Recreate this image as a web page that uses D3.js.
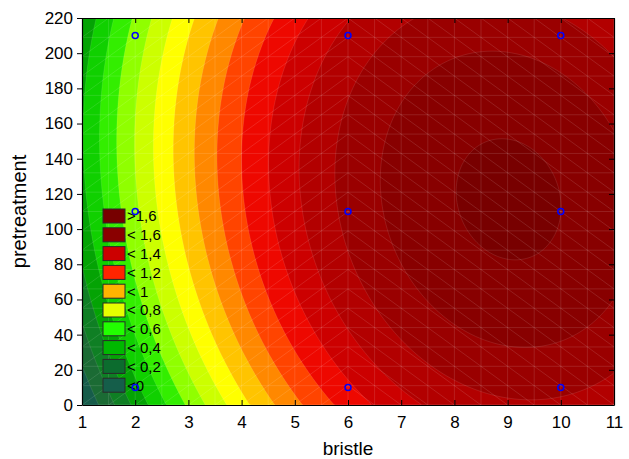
<!DOCTYPE html>
<html>
<head>
<meta charset="utf-8">
<script src="https://cdn.jsdelivr.net/npm/d3@7"></script>
<style>
body { margin: 0; background: #fff; }
text { font-family: "Liberation Sans", Arial, sans-serif; }
</style>
</head>
<body>
<div id="chart"></div>
<script>
// design points (blue circles)
var bristle = [2, 6, 10];
var pretreatment = [10, 110, 210];
// response read at each design point, one array per bristle level (pretreatment 10,110,210)
var respB2 = [0.28, 0.575, 0.535];
var respB6 = [1.17, 1.43, 1.33];
var respB10 = [1.425, 1.598, 1.433];

var levels = [0, 0.1, 0.2, 0.3, 0.4, 0.5, 0.6, 0.7, 0.8, 0.9, 1.0, 1.1, 1.2, 1.3, 1.4, 1.5, 1.6];
var belowColor = "#165c4a";
var bandColors = ["#1b6b34", "#0f7f24", "#04a304", "#10d000", "#33ee00", "#90ff00", "#ccff00",
  "#ffff00", "#ffc400", "#ff8800", "#ff4400", "#ee0800", "#cc0000", "#b20000", "#9a0000", "#880000", "#780000"];

var legendLabels = [">1,6", "< 1,6", "< 1,4", "< 1,2", "< 1", "< 0,8", "< 0,6", "< 0,4", "< 0,2", "<0"];
var legendColors = ["#770000", "#8a0000", "#cc0000", "#ff2400", "#ffb400", "#e6ff00", "#22ff00", "#00b800", "#0c6c2e", "#155e4a"];

var xTicks = [1, 2, 3, 4, 5, 6, 7, 8, 9, 10, 11];
var yTicks = [0, 20, 40, 60, 80, 100, 120, 140, 160, 180, 200, 220];

(function () {
var width = 629, height = 459;
var L = 82, R = 614, T = 18, B = 405;
var W = R - L, H = B - T;

var x = d3.scaleLinear().domain([1, 11]).range([L, R]);
var y = d3.scaleLinear().domain([0, 220]).range([B, T]);

var svg = d3.select("#chart").append("svg")
  .attr("width", width).attr("height", height);

// quadratic response surface fitted (least squares) to the design points
var pts = [];
var resp = [respB2, respB6, respB10];
bristle.forEach(function (b, i) {
  pretreatment.forEach(function (p, j) {
    pts.push({ x: b, y: p, z: resp[i][j] });
  });
});
function terms(xv, yv) {
  var a = (xv - 6) / 4, b = (yv - 110) / 100;
  return [1, a, b, a * a, b * b, a * b];
}
var M = [], v = [];
for (var r = 0; r < 6; r++) { M.push([0, 0, 0, 0, 0, 0]); v.push(0); }
pts.forEach(function (d) {
  var t = terms(d.x, d.y);
  for (var r = 0; r < 6; r++) {
    v[r] += t[r] * d.z;
    for (var c = 0; c < 6; c++) M[r][c] += t[r] * t[c];
  }
});
for (var k = 0; k < 6; k++) {
  var piv = k;
  for (var r = k + 1; r < 6; r++) if (Math.abs(M[r][k]) > Math.abs(M[piv][k])) piv = r;
  var tmp = M[k]; M[k] = M[piv]; M[piv] = tmp;
  var tv = v[k]; v[k] = v[piv]; v[piv] = tv;
  for (var r = k + 1; r < 6; r++) {
    var f = M[r][k] / M[k][k];
    for (var c = k; c < 6; c++) M[r][c] -= f * M[k][c];
    v[r] -= f * v[k];
  }
}
var coef = [0, 0, 0, 0, 0, 0];
for (var k = 5; k >= 0; k--) {
  var s = v[k];
  for (var c = k + 1; c < 6; c++) s -= M[k][c] * coef[c];
  coef[k] = s / M[k][k];
}
function surf(xv, yv) {
  var t = terms(xv, yv), s = 0;
  for (var i = 0; i < 6; i++) s += coef[i] * t[i];
  return s;
}

var nx = 266, ny = 194;
var values = new Array(nx * ny);
for (var j = 0; j < ny; j++) {
  var yv = y.invert(T + (j + 0.5) * H / ny);
  for (var i = 0; i < nx; i++) {
    values[j * nx + i] = surf(x.invert(L + (i + 0.5) * W / nx), yv);
  }
}

var contours = d3.contours().size([nx, ny]).smooth(true).thresholds(levels)(values);
var path = d3.geoPath(d3.geoTransform({
  point: function (px, py) { this.stream.point(L + px * W / nx, T + py * H / ny); }
}));

svg.append("clipPath").attr("id", "plotclip")
  .append("rect").attr("x", L).attr("y", T).attr("width", W).attr("height", H);

var plot = svg.append("g").attr("clip-path", "url(#plotclip)");
plot.append("rect").attr("x", L).attr("y", T).attr("width", W).attr("height", H)
  .attr("fill", belowColor);

plot.selectAll(".band")
  .data(contours)
  .enter().append("path")
  .attr("class", "band")
  .attr("d", path)
  .attr("fill", function (d, i) { return bandColors[i]; })
  .attr("stroke", "rgba(255,255,255,0.14)")
  .attr("stroke-width", 0.7);

// faint surface mesh
var mx = d3.range(0, 21).map(function (k) { return 1 + k * 0.5; });
var my = d3.range(0, 21).map(function (k) { return k * 11; });
var mesh = plot.append("g").attr("stroke", "rgba(255,255,255,0.15)").attr("stroke-width", 0.8);
mx.forEach(function (xv) {
  mesh.append("line").attr("x1", x(xv)).attr("x2", x(xv)).attr("y1", T).attr("y2", B);
});
my.forEach(function (yv) {
  mesh.append("line").attr("x1", L).attr("x2", R).attr("y1", y(yv)).attr("y2", y(yv));
});
for (var i = 0; i < 20; i++) {
  for (var j = 0; j < 20; j++) {
    var ln = mesh.append("line");
    if (i < 10) {
      ln.attr("x1", x(mx[i])).attr("y1", y(my[j])).attr("x2", x(mx[i + 1])).attr("y2", y(my[j + 1]));
    } else {
      ln.attr("x1", x(mx[i])).attr("y1", y(my[j + 1])).attr("x2", x(mx[i + 1])).attr("y2", y(my[j]));
    }
  }
}

// axes
svg.append("g").attr("transform", "translate(0," + B + ")")
  .call(d3.axisBottom(x).tickValues(xTicks).tickFormat(d3.format("d")).tickSize(-5).tickSizeOuter(0).tickPadding(11));
svg.append("g").attr("transform", "translate(0," + T + ")")
  .call(d3.axisTop(x).tickValues(xTicks).tickFormat("").tickSize(-5).tickSizeOuter(0));
svg.append("g").attr("transform", "translate(" + L + ",0)")
  .call(d3.axisLeft(y).tickValues(yTicks).tickFormat(d3.format("d")).tickSize(5).tickSizeOuter(0).tickPadding(4));
svg.append("g").attr("transform", "translate(" + R + ",0)")
  .call(d3.axisRight(y).tickValues(yTicks).tickFormat("").tickSize(-5).tickSizeOuter(0));

svg.selectAll(".domain").attr("stroke", "#000").attr("stroke-width", 1.2);
svg.selectAll(".tick line").attr("stroke", "#000");
svg.selectAll(".tick text").attr("font-size", 17).attr("fill", "#000")
  .attr("font-family", "'Liberation Sans', Arial, sans-serif");

svg.append("text").attr("x", (L + R) / 2).attr("y", 455)
  .attr("text-anchor", "middle").attr("font-size", 19).text("bristle");
svg.append("text").attr("transform", "translate(26," + ((T + B) / 2) + ") rotate(-90)")
  .attr("text-anchor", "middle").attr("font-size", 20).text("pretreatment");

// legend
var lg = svg.append("g");
legendLabels.forEach(function (lab, i) {
  var yy = 209 + i * 18.8;
  lg.append("rect").attr("x", 103).attr("y", yy).attr("width", 22).attr("height", 14)
    .attr("fill", legendColors[i]).attr("stroke", "#2a2a2a").attr("stroke-width", 1);
  lg.append("text").attr("x", 127).attr("y", yy + 7).attr("dy", "0.36em")
    .attr("font-size", 15).attr("fill", "#000").text(lab);
});

// design points
svg.selectAll(".pt")
  .data(pts)
  .enter().append("circle")
  .attr("class", "pt")
  .attr("cx", function (d) { return x(d.x); })
  .attr("cy", function (d) { return y(d.y); })
  .attr("r", 3)
  .attr("fill", "none")
  .attr("stroke", "#0000ff")
  .attr("stroke-width", 1.5);
})();
</script>
</body>
</html>
